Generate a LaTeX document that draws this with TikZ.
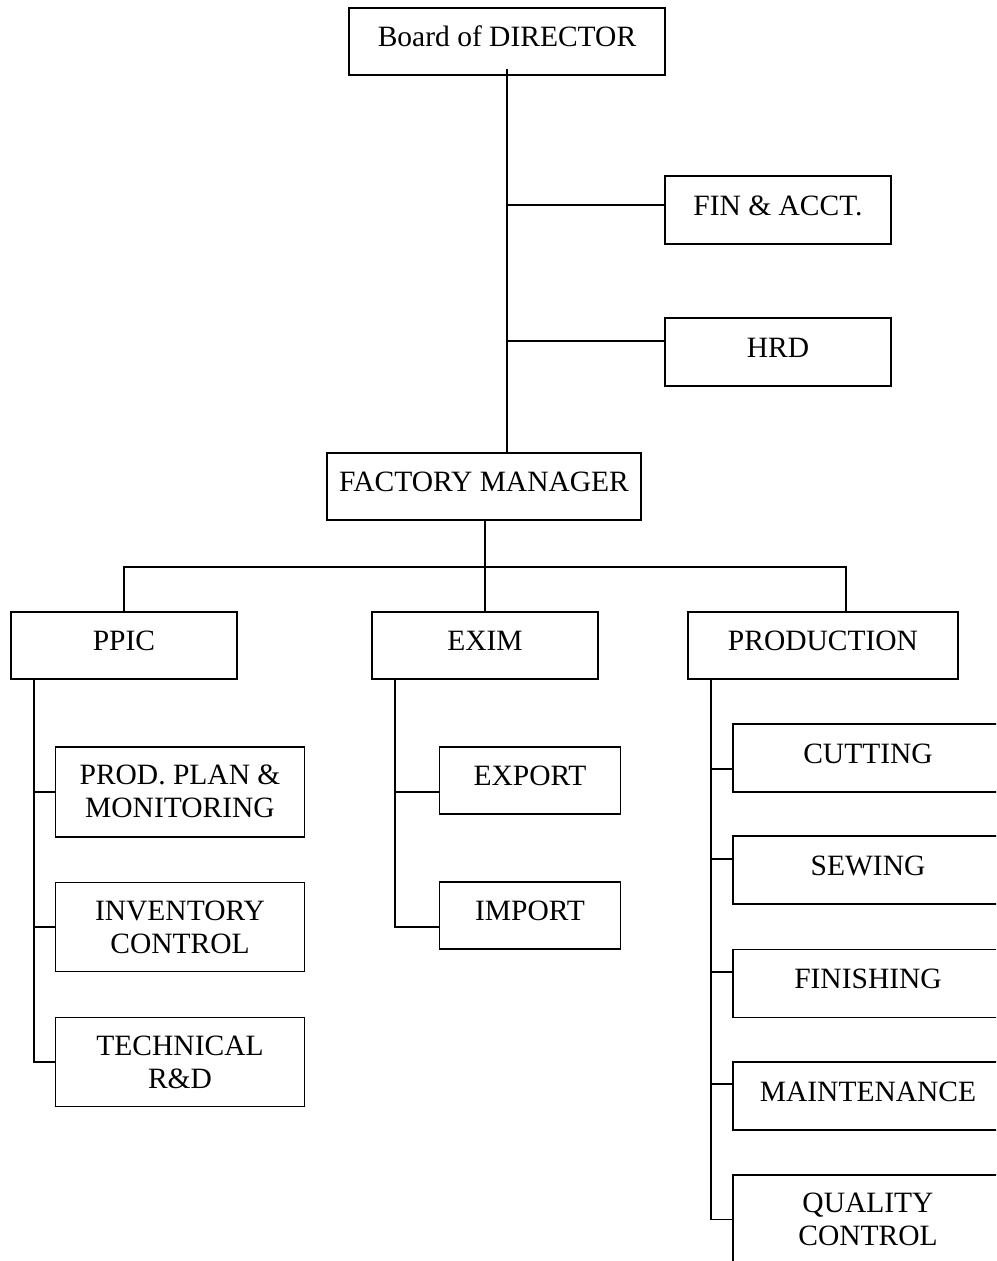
\documentclass[tikz,border=0pt]{standalone}
\usepackage{fontspec}
\setmainfont{Liberation Serif}
\begin{document}
\begin{tikzpicture}[x=1pt,y=1pt,
  box/.style={draw, line width=1.8pt, inner sep=0pt, font=\fontsize{29.5}{33}\selectfont, align=center},
  one/.style={text height=20pt, text depth=10pt},
  conn/.style={line width=1.8pt}]
\useasboundingbox (0,0) rectangle (996,-1261);
\clip (0,0) rectangle (996,-1261);
% top level
\node[box,one,minimum width=316pt,minimum height=67pt] (board) at (507,-41.5) {Board of DIRECTOR};
\node[box,one,minimum width=226pt,minimum height=68pt] (fin) at (778,-210) {FIN \& ACCT.};
\node[box,one,minimum width=226pt,minimum height=68pt] (hrd) at (778,-352) {HRD};
\node[box,one,minimum width=314pt,minimum height=67pt] (fm) at (484,-486.5) {FACTORY MANAGER};
% departments
\node[box,one,minimum width=226pt,minimum height=67pt] (ppic) at (124,-645.5) {PPIC};
\node[box,one,minimum width=226pt,minimum height=67pt] (exim) at (485,-645.5) {EXIM};
\node[box,one,minimum width=270pt,minimum height=67pt] (prod) at (823,-645.5) {PRODUCTION};
% PPIC subs
\node[box,minimum width=249pt,minimum height=90pt] (pp1) at (180,-791.7) {PROD. PLAN \&\\MONITORING};
\node[box,minimum width=249pt,minimum height=89pt] (pp2) at (180,-927) {INVENTORY\\CONTROL};
\node[box,minimum width=249pt,minimum height=89pt] (pp3) at (180,-1062) {TECHNICAL\\R\&D};
% EXIM subs
\node[box,one,minimum width=181pt,minimum height=67pt] (ex1) at (530,-780.5) {EXPORT};
\node[box,one,minimum width=181pt,minimum height=67pt] (ex2) at (530,-915.5) {IMPORT};
% PRODUCTION subs
\node[box,one,minimum width=270pt,minimum height=68pt] (pr1) at (868,-758) {CUTTING};
\node[box,one,minimum width=270pt,minimum height=68pt] (pr2) at (868,-870) {SEWING};
\node[box,one,minimum width=270pt,minimum height=68pt] (pr3) at (868,-983.5) {FINISHING};
\node[box,one,minimum width=270pt,minimum height=68pt] (pr4) at (868,-1096) {MAINTENANCE};
\node[box,minimum width=270pt,minimum height=89pt] (pr5) at (868,-1219.5) {QUALITY\\CONTROL};
% connectors top
\draw[conn] ([yshift=7pt]board.south) -- (board.south |- fm.north);
\draw[conn] (board.south |- fin.west) ++(0,5) -- ([yshift=5pt]fin.west);
\draw[conn] (board.south |- hrd.west) ++(0,11) -- ([yshift=11pt]hrd.west);
% bus
\coordinate (bus) at ([xshift=1pt,yshift=-46pt]fm.south);
\draw[conn] ([xshift=1pt]fm.south) -- (bus);
\draw[conn] (ppic.north) -- (ppic.north |- bus) -- ([xshift=23pt]prod.north |- bus) -- ([xshift=23pt]prod.north);
\draw[conn] (bus) -- (exim.north);
% PPIC tree
\coordinate (pv) at ([xshift=-90pt]ppic.south);
\draw[conn] (pv) -- (pv |- pp3.west) -- (pp3.west);
\draw[conn] (pv |- pp1.west) -- (pp1.west);
\draw[conn] (pv |- pp2.west) -- (pp2.west);
% EXIM tree
\coordinate (ev) at ([xshift=-90pt]exim.south);
\draw[conn] (ev) -- ([yshift=-11.5pt]ev |- ex2.west) -- ([yshift=-11.5pt]ex2.west);
\draw[conn] ([yshift=-11.5pt]ev |- ex1.west) -- ([yshift=-11.5pt]ex1.west);
% PRODUCTION tree
\coordinate (rv) at ([xshift=-112pt]prod.south);
\draw[conn] (rv) -- (rv |- pr5.west) -- (pr5.west);
\draw[conn] ([yshift=-11pt]rv |- pr1.west) -- ([yshift=-11pt]pr1.west);
\draw[conn] ([yshift=11pt]rv |- pr2.west) -- ([yshift=11pt]pr2.west);
\draw[conn] ([yshift=11.5pt]rv |- pr3.west) -- ([yshift=11.5pt]pr3.west);
\draw[conn] ([yshift=12pt]rv |- pr4.west) -- ([yshift=12pt]pr4.west);
\end{tikzpicture}
\end{document}
